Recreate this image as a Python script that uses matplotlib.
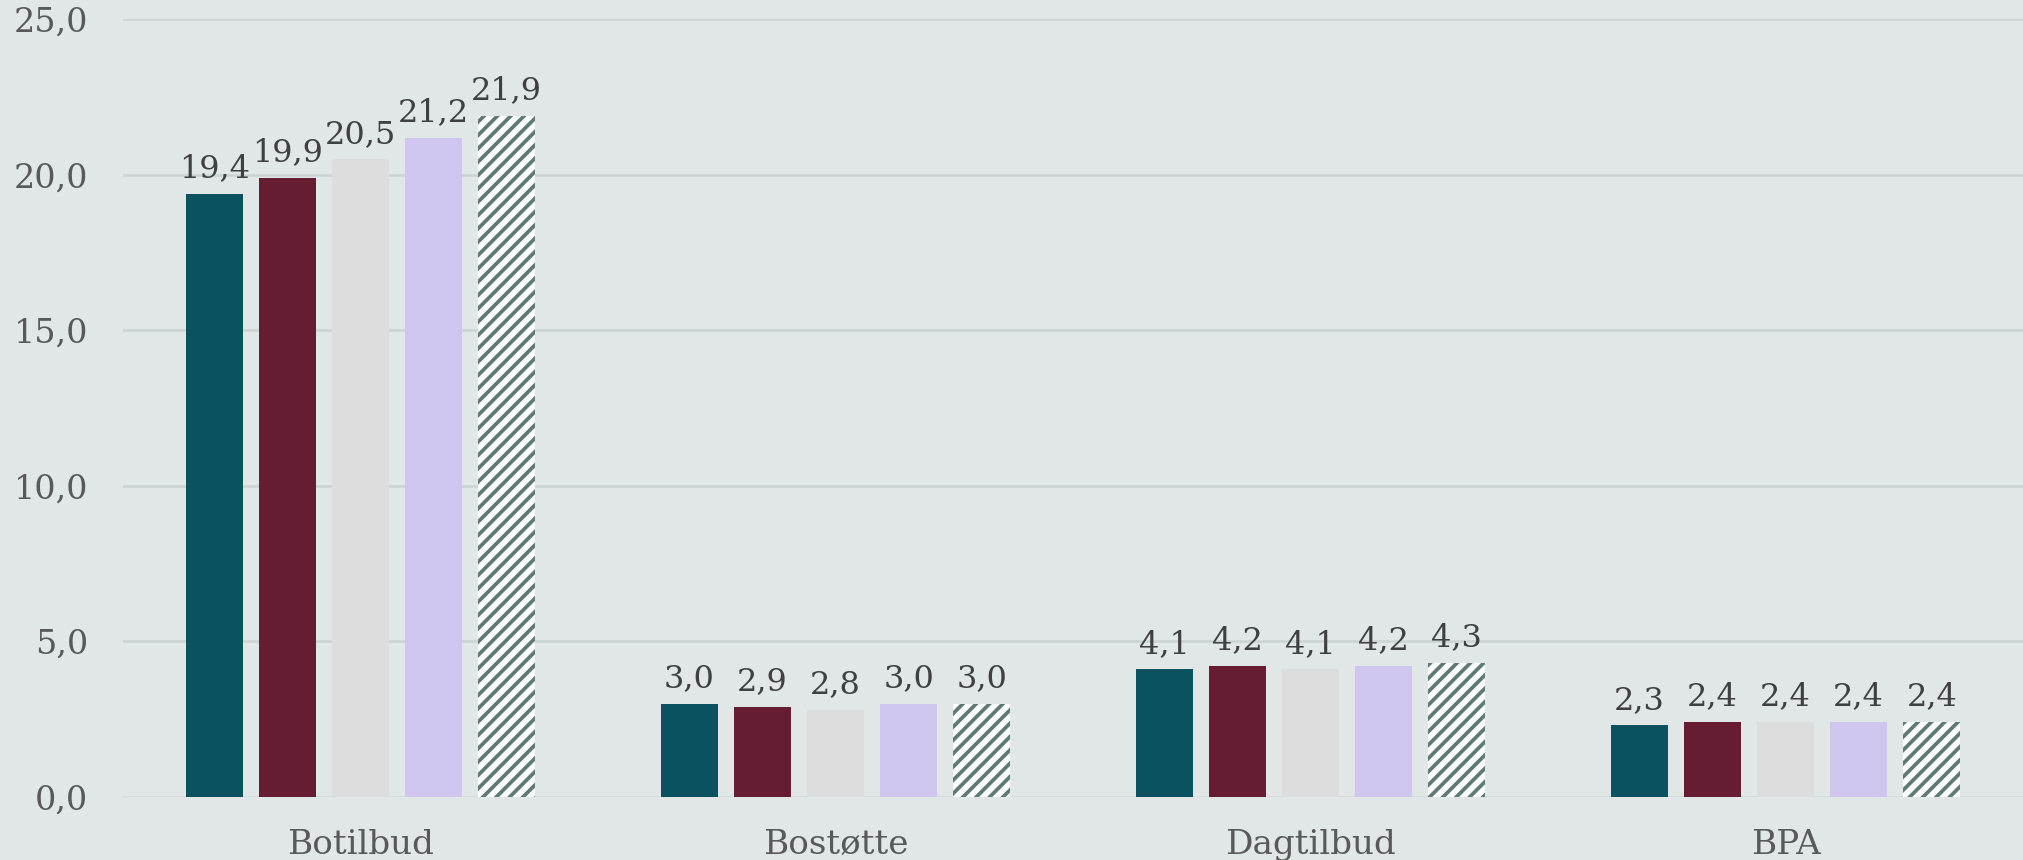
import matplotlib
matplotlib.use("Agg")
import matplotlib.pyplot as plt
import numpy as np

categories = ["Botilbud", "Bostøtte", "Dagtilbud", "BPA"]
series_names = ["2019", "2020", "2021", "2022", "2023"]
values_s1 = [19.4, 3.0, 4.1, 2.3]
values_s2 = [19.9, 2.9, 4.2, 2.4]
values_s3 = [20.5, 2.8, 4.1, 2.4]
values_s4 = [21.2, 3.0, 4.2, 2.4]
values_s5 = [21.9, 3.0, 4.3, 2.4]
yticks = [0, 5, 10, 15, 20, 25]

series = [values_s1, values_s2, values_s3, values_s4, values_s5]
face_colors = ["#0B5261", "#661D31", "#DDDDDD", "#D0C5EE", "#FFFFFF"]
edge_colors = ["#0B5261", "#661D31", "#DDDDDD", "#D0C5EE", "#5E7B78"]
hatches = [None, None, None, None, "/////"]

BG = "#E1E7E7"
plt.rcParams["font.family"] = ["DejaVu Serif"]
plt.rcParams["hatch.linewidth"] = 1.35

fig = plt.figure(figsize=(10.115, 4.3), dpi=200, facecolor=BG)
ax = fig.add_axes([0.0608, 0.0733, 0.9392, 0.9041])
ax.set_facecolor(BG)

x = np.arange(len(categories))
step = 0.154
width = 0.12
for i, (vals, fc, ec, h) in enumerate(zip(series, face_colors, edge_colors, hatches)):
    pos = x + (i - 2) * step
    bars = ax.bar(pos, vals, width=width, color=fc, edgecolor=ec, linewidth=0,
                  hatch=h, label=series_names[i], zorder=3)
    for b, v in zip(bars, vals):
        ax.annotate(f"{v:.1f}".replace(".", ","),
                    (b.get_x() + b.get_width() / 2, v),
                    xytext=(0, 3.5), textcoords="offset points",
                    ha="center", va="bottom", fontsize=11.5, color="#404040", zorder=4)

ax.set_xlim(-0.5, 3.5)
ax.set_ylim(0, 25)
ax.set_yticks(yticks)
ax.set_yticklabels([f"{t:.1f}".replace(".", ",") for t in yticks])
ax.set_xticks(x)
ax.set_xticklabels(categories)

for t in yticks:
    ax.axhline(t, color="#CBD3D3" if t != 0 else "#D5D6D8", linewidth=0.9, zorder=1)

for s in ax.spines.values():
    s.set_visible(False)
ax.tick_params(axis="y", length=0, pad=12.5, labelsize=12, labelcolor="#595959")
ax.tick_params(axis="x", length=0, pad=11.5, labelsize=12.3, labelcolor="#595959")

fig.savefig("out.png", dpi=200, facecolor=BG)
